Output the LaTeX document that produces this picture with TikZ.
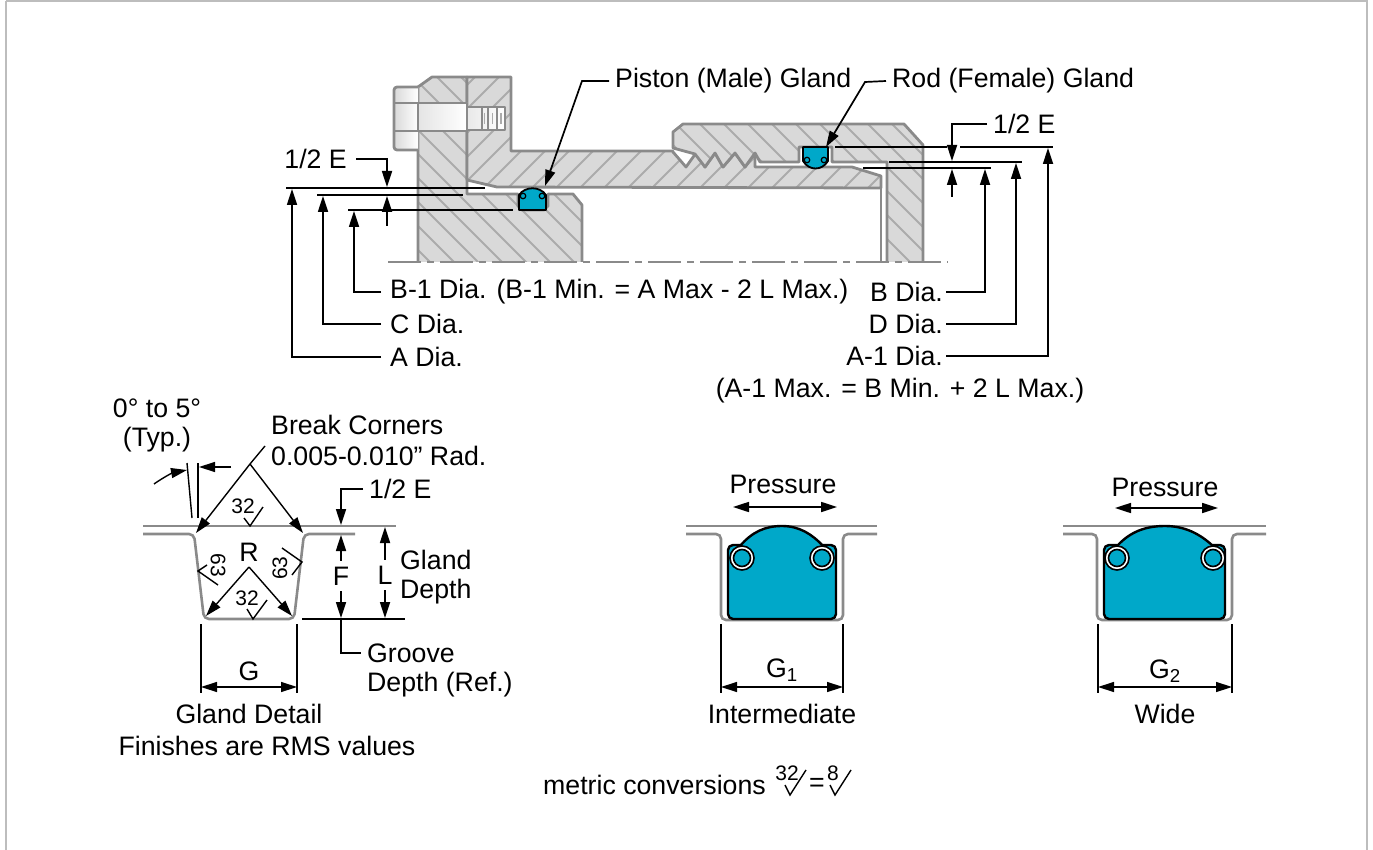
\documentclass[tikz,border=0pt]{standalone}
\usepackage{fontspec}
\setmainfont{Liberation Sans}
\usetikzlibrary{positioning, arrows.meta}
\definecolor{partgray}{HTML}{D9D9D9}
\definecolor{edgegray}{HTML}{8A8A8A}
\definecolor{hatchgray}{HTML}{ABABAB}
\definecolor{sealblue}{HTML}{00A8C9}
\definecolor{framegray}{HTML}{BDBDBD}

% filled part: #1 outline path, #2 hatch direction
\newcommand{\hatchpart}[2]{
\fill[partgray] #1;
\begin{scope}
\clip #1;
\foreach \k in {0,24,...,1400} \draw[hatchline] (\k,0) -- ++(#2*400,400);
\end{scope}
\draw[partline] #1;
}

\tikzset{
lbl/.style = {font=\fontsize{26.7}{31}\selectfont, inner sep=6pt},
smalllbl/.style = {font=\fontsize{21}{24}\selectfont, inner sep=0pt},
partline/.style = {draw=edgegray, line width=2.8pt, line join=round},
hatchline/.style = {draw=hatchgray, line width=2pt},
grooveline/.style = {draw=edgegray, line width=2.6pt, rounded corners=5pt},
dimline/.style = {draw=black, line width=1.7pt},
thinline/.style = {draw=black, line width=1.4pt},
dimarrow/.style = {dimline, -{Triangle[length=16pt,width=10pt]}},
twoarrow/.style = {dimline, {Triangle[length=16pt,width=10pt]}-{Triangle[length=16pt,width=10pt]}},
seal/.style = {fill=sealblue, draw=black, line width=2.4pt, line join=round},
oring/.style = {circle, draw=black, fill=sealblue, line width=1.6pt, inner sep=0pt, minimum size=#1},
ringback/.style = {circle, draw=black, fill=white, line width=1.6pt, inner sep=0pt, minimum size=#1},
}

\begin{document}
\begin{tikzpicture}[x=1pt, y=-1pt, node distance=32pt]
\useasboundingbox (0,0) rectangle (1373,850);
\draw[framegray, line width=1.6pt] (6,1) -- (1367,1) -- (1367,850) (6,1) -- (6,850);

% flange and piston
\hatchpart{(418,262) -- (418,87) -- (432,77) -- (467,77) -- (467,194) -- (518,194) -- (518,206) -- (522,210) -- (544,210) -- (548,206) -- (548,194) -- (573,194) -- (582,205) -- (582,262)}{1}
% rod
\hatchpart{(467,180) -- (467,77) -- (511,77) -- (511,151) -- (673,151) -- (673,152) -- (686,167) -- (696,153) -- (705,167) -- (715,153) -- (723,167) -- (735,153) -- (745,167) -- (755,153) -- (755,167) -- (852,167) -- (881,176) -- (881,188) -- (497,187) -- cycle}{-1}
% nut
\hatchpart{(923,262) -- (923,145) -- (904,124) -- (683,124) -- (673,132) -- (673,148) -- (695,154) -- (705,167) -- (715,153) -- (723,167) -- (735,153) -- (745,167) -- (755,153) -- (760,162) -- (799,162) -- (799,147) -- (832,147) -- (832,162) -- (887,162) -- (887,262)}{1}
\draw[partline] (881,188) -- (881,262);

% bolt
\draw[partline, left color=partgray, right color=white, rounded corners=3pt] (418,87) -- (394,87) -- (394,150) -- (418,150);
\draw[partline] (394,103) -- (418,103) (394,131) -- (418,131);
\draw[partline, left color=partgray!70, right color=white] (418,103) rectangle (467,131);
\draw[partline, left color=partgray!60, right color=white] (467,107) rectangle (505,130);
\draw[partline, line width=1.8pt] (482,107) -- (482,130) (488,107) -- (488,130) (497,107) -- (497,130);
\draw[hatchline, line width=1.4pt] (484.5,113) -- (484.5,124) (492.5,113) -- (492.5,124) (501,113) -- (501,124);

% center line
\draw[edgegray, line width=2.2pt, dash pattern=on 33pt off 6pt on 7pt off 6pt] (388,262) -- (948,262);

% small seals
\draw[seal, line width=1.8pt] (519,195) .. controls (525,186) and (540,186) .. (546,195) -- (546,210) -- (519,210) -- cycle;
\node[oring=5.5pt, line width=1.2pt] (pistonringl) at (523,196) {};
\node[oring=5.5pt, line width=1.2pt] (pistonringr) at (542,196) {};
\draw[seal, line width=1.8pt] (803,147) -- (828,147) -- (828,161) .. controls (822,171) and (809,171) .. (803,161) -- cycle;
\node[oring=5.5pt, line width=1.2pt] (rodringl) at (807,160) {};
\node[oring=5.5pt, line width=1.2pt] (rodringr) at (824,160) {};

% top leaders
\node[lbl, anchor=west] (piston) at (609,81) {Piston (Male) Gland};
\node[lbl, anchor=west] (rod) at (886,81) {Rod (Female) Gland};
\coordinate (pistontip) at (545,186);
\coordinate (rodtip) at (826,147);
\coordinate (pistonbend) at (582,81);
\coordinate (rodbend) at (865,82);
\draw[dimarrow] (piston.west) -- (pistonbend) -- (pistontip);
\draw[dimarrow] (rod.west) -- (rodbend) -- (rodtip);

% left dimensions
\node[lbl, anchor=east, inner sep=9pt] (halfl) at (356,159) {1/2 E};
\coordinate (halfltip) at (387,187);
\coordinate (halflback) at (387,196);
\coordinate (halflend) at (387,226);
\draw[dimarrow] (halfl.east) -| (halfltip);
\draw[dimarrow] (halflend) -- (halflback);
\coordinate (aleft) at (286,188);
\coordinate (aright) at (485,188);
\coordinate (cleft) at (317,195);
\coordinate (cright) at (463,195);
\coordinate (bleft) at (348,210);
\coordinate (bright) at (513,210);
\draw[dimline] (aleft) -- (aright);
\draw[dimline] (cleft) -- (cright);
\draw[dimline] (bleft) -- (bright);
\node[lbl, anchor=west, inner sep=9pt] (bone) at (381,292) {B-1 Dia. (B-1 Min. = A Max - 2 L Max.)};
\node[lbl, anchor=west, inner sep=9pt] (cdia) at (381,324) {C Dia.};
\node[lbl, anchor=west, inner sep=9pt] (adia) at (381,357) {A Dia.};
\coordinate (bonetip) at (354,211);
\coordinate (cdiatip) at (323,196);
\coordinate (adiatip) at (292,189);
\draw[dimarrow] (bone.west) -| (bonetip);
\draw[dimarrow] (cdia.west) -| (cdiatip);
\draw[dimarrow] (adia.west) -| (adiatip);

% right dimensions
\node[lbl, anchor=west] (halfr) at (987,124) {1/2 E};
\coordinate (halfrtip) at (952,161);
\coordinate (halfrback) at (952,169);
\coordinate (halfrend) at (952,197);
\draw[dimarrow] (halfr.west) -| (halfrtip);
\draw[dimarrow] (halfrend) -- (halfrback);
\coordinate (aoneleft) at (835,147);
\coordinate (aonegapl) at (947,147);
\coordinate (aonegapr) at (960,147);
\coordinate (aoneright) at (1053,147);
\coordinate (dleft) at (889,162);
\coordinate (dright) at (1022,162);
\coordinate (bleftr) at (863,168);
\coordinate (brightr) at (991,168);
\draw[dimline] (aoneleft) -- (aonegapl) (aonegapr) -- (aoneright);
\draw[dimline] (dleft) -- (dright);
\draw[dimline] (bleftr) -- (brightr);
\node[lbl, anchor=east, inner sep=3pt] (bdia) at (946,292) {B Dia.};
\node[lbl, anchor=east, inner sep=3pt] (ddia) at (946,324) {D Dia.};
\node[lbl, anchor=east, inner sep=3pt] (aone) at (946,356) {A-1 Dia.};
\node[lbl] (aonenote) at (900,391) {(A-1 Max. = B Min. + 2 L Max.)};
\coordinate (bdiatip) at (985,169);
\coordinate (ddiatip) at (1016,163);
\coordinate (aonetip) at (1048,148);
\draw[dimarrow] (bdia.east) -| (bdiatip);
\draw[dimarrow] (ddia.east) -| (ddiatip);
\draw[dimarrow] (aone.east) -| (aonetip);

% gland detail
\draw[edgegray, line width=2.6pt] (143,526) -- (396,526);
\draw[grooveline] (143,534) -- (194,534) -- (204,619) -- (294,619) -- (304,534) -- (355,534);
\draw[thinline] (187,463) -- (192,518);
\draw[thinline] (198,463) -- (198,518);
\coordinate (angleleft) at (154,484);
\coordinate (angletipl) at (187,470);
\coordinate (angleright) at (231,467);
\coordinate (angletipr) at (199,467);
\draw[dimarrow, line width=1.4pt] (angleleft) to [bend left=12] (angletipl);
\draw[dimarrow, line width=1.4pt] (angleright) -- (angletipr);
\node[lbl] (angle) at (157,408) {0° to 5°};
\node[lbl, below of=angle] (typ) {(Typ.)};
\node[lbl, anchor=west] (breakc) at (265,425) {Break Corners};
\node[lbl, anchor=west] (breakrad) at (265,456) {0.005-0.010” Rad.};
\coordinate (breakend) at (265,446);
\coordinate (breakapex) at (250,464);
\coordinate (breakl) at (196,533);
\coordinate (breakr) at (303,533);
\draw[thinline] (breakend) -- (breakapex);
\draw[dimarrow, line width=1.4pt] (breakapex) -- (breakl);
\draw[dimarrow, line width=1.4pt] (breakapex) -- (breakr);
\node[lbl] (radius) at (249,552) {R};
\coordinate (rapex) at (249,567);
\coordinate (rl) at (206,616);
\coordinate (rr) at (292,616);
\draw[dimarrow, line width=1.4pt] (rapex) -- (rl);
\draw[dimarrow, line width=1.4pt] (rapex) -- (rr);
% finish marks
\node[smalllbl] (topfin) at (243,506) {32};
\node[smalllbl] (botfin) at (247,598) {32};
\node[smalllbl, rotate=-90] (leftfin) at (218,565) {63};
\node[smalllbl, rotate=90] (rightfin) at (280,568) {63};
\draw[thinline] (244,518) -- (250,526) -- (263,507);
\draw[thinline] (247,609) -- (253,619) -- (267,600);
\draw[thinline] (207,565) -- (198,571) -- (218,585);
\draw[thinline] (282,548) -- (302,562) -- (292,575);

\node[lbl, anchor=west] (halfg) at (363,489) {1/2 E};
\coordinate (halfgtip) at (341,525);
\draw[dimarrow] (halfg.west) -| (halfgtip);
\node[lbl] (fdim) at (341,576) {F};
\node[lbl] (ldim) at (385,575) {L};
\coordinate (ftip) at (341,535);
\coordinate (fbot) at (341,618);
\coordinate (ltip) at (385,527);
\coordinate (lbot) at (385,618);
\draw[dimarrow] (fdim) -- (ftip);
\draw[dimarrow] (fdim) -- (fbot);
\draw[dimarrow] (ldim) -- (ltip);
\draw[dimarrow] (ldim) -- (lbot);
\coordinate (baseleft) at (302,619);
\coordinate (baseright) at (405,619);
\draw[dimline] (baseleft) -- (baseright);
\node[lbl, anchor=west] (glandw) at (394,560) {Gland};
\node[lbl, anchor=west] (glandd) at (394,592) {Depth};
\node[lbl, anchor=west] (groovew) at (361,653) {Groove};
\node[lbl, anchor=west] (grooved) at (361,685) {Depth (Ref.)};
\draw[dimline] (fbot) |- (groovew.west);

\node[lbl] (gdim) at (249,671) {G};
\node[lbl, below of=gdim, yshift=-11pt] (gcap) {Gland Detail};
\node[lbl] (finishes) at (267,746) {Finishes are RMS values};
\coordinate (gl) at (201,687);
\coordinate (gr) at (297,687);
\draw[thinline] (201,624) -- (gl) -- (201,693);
\draw[thinline] (297,624) -- (gr) -- (297,693);
\draw[twoarrow, line width=1.4pt] (gl) -- (gr);

% intermediate gland
\draw[edgegray, line width=2.6pt] (686,526) -- (877,526);
\draw[grooveline] (686,534) -- (721,534) -- (721,620) -- (843,620) -- (843,534) -- (877,534);
\draw[seal, rounded corners=5pt] (740,545) -- (728,545) -- (728,619) -- (836,619) -- (836,545) -- (823,545);
\fill[sealblue] (740,546) -- (823,546) -- (823,560) -- (740,560) -- cycle;
\draw[seal] (740,546) .. controls (752,532) and (765,526) .. (782,526) .. controls (799,526) and (812,534) .. (823,546);
\node[ringback=24pt] (ringlb) at (742,558) {};
\node[oring=17pt] (ringl) at (742,558) {};
\node[ringback=24pt] (ringrb) at (822,558) {};
\node[oring=17pt] (ringr) at (822,558) {};
\node[lbl] (presa) at (783,484) {Pressure};
\coordinate (presal) at (733,507);
\coordinate (presar) at (837,507);
\draw[twoarrow] (presal) -- (presar);
\node[lbl] (gone) at (782,670) {G\textsubscript{1}};
\node[lbl, below of=gone, yshift=-12pt] (intermediate) {Intermediate};
\coordinate (gonel) at (721,687);
\coordinate (goner) at (843,687);
\draw[thinline] (721,624) -- (721,693);
\draw[thinline] (843,624) -- (843,693);
\draw[twoarrow, line width=1.4pt] (gonel) -- (goner);

% wide gland
\draw[edgegray, line width=2.6pt] (1063,526) -- (1266,526);
\draw[grooveline] (1063,534) -- (1097,534) -- (1097,620) -- (1232,620) -- (1232,534) -- (1266,534);
\draw[seal, rounded corners=5pt] (1117,545) -- (1104,545) -- (1104,619) -- (1225,619) -- (1225,545) -- (1213,545);
\fill[sealblue] (1117,546) -- (1213,546) -- (1213,560) -- (1117,560) -- cycle;
\draw[seal] (1117,546) .. controls (1130,532) and (1145,526) .. (1165,526) .. controls (1185,526) and (1200,534) .. (1213,546);
\node[ringback=24pt] (widelb) at (1117,558) {};
\node[oring=17pt] (widel) at (1117,558) {};
\node[ringback=24pt] (widerb) at (1213,558) {};
\node[oring=17pt] (wider) at (1213,558) {};
\node[lbl] (presb) at (1165,487) {Pressure};
\coordinate (presbl) at (1115,508);
\coordinate (presbr) at (1218,508);
\draw[twoarrow] (presbl) -- (presbr);
\node[lbl] (gtwo) at (1165,671) {G\textsubscript{2}};
\node[lbl, below of=gtwo, yshift=-11pt] (wide) {Wide};
\coordinate (gtwol) at (1098,687);
\coordinate (gtwor) at (1232,687);
\draw[thinline] (1098,624) -- (1098,693);
\draw[thinline] (1232,624) -- (1232,693);
\draw[twoarrow, line width=1.4pt] (gtwol) -- (gtwor);

% metric note
\node[lbl, anchor=west] (metric) at (537,785) {metric conversions};
\node[smalllbl] (metrica) at (787,773) {32};
\draw[thinline] (785,785) -- (790,795) -- (806,770);
\node[lbl] (metriceq) at (817,785) {=};
\node[smalllbl] (metricb) at (833,773) {8};
\draw[thinline] (830,785) -- (835,795) -- (851,770);
\end{tikzpicture}
\end{document}
